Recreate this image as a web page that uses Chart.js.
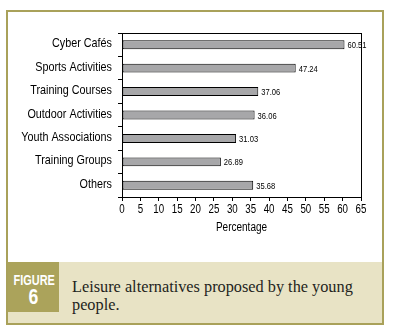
<!DOCTYPE html>
<html><head><meta charset="utf-8">
<script src="https://cdn.jsdelivr.net/npm/chart.js@4"></script>
<style>
html,body{margin:0;padding:0;background:#fff;width:393px;height:335px;overflow:hidden}
#frame{position:absolute;left:6px;top:10px;width:374px;height:311px;border:2px solid #A9A15A;background:#fff}
#chartbox{position:absolute;left:0;top:0;width:374px;height:250px}
#band{position:absolute;left:0;top:250px;width:374px;height:61px;background:#E8E3C5}
#fig{position:absolute;left:0;top:0;width:51px;height:50px;background:#ABA35B;color:#fff;text-align:center;font-family:"Liberation Sans",Arial,sans-serif;font-weight:bold}
#fig .a{position:absolute;left:0;width:51px;top:11px;font-size:14px;line-height:14px;transform:scaleX(0.78)}
#fig .b{position:absolute;left:0;width:51px;top:24px;font-size:22px;line-height:22px;transform:scaleX(0.8)}
#cap{position:absolute;left:64px;top:16px;width:305px;font-family:"Liberation Serif","DejaVu Serif",serif;font-size:16.3px;line-height:18px;color:#231f20}
</style></head>
<body>
<div id="frame">
  <div id="chartbox"><canvas id="c" width="374" height="250"></canvas></div>
  <div id="band"><div id="fig"><div class="a">FIGURE</div><div class="b">6</div></div>
  <div id="cap">Leisure alternatives proposed by the young people.</div></div>
</div>
<script>
const categories = ["Cyber Cafés","Sports Activities","Training Courses","Outdoor Activities","Youth Associations","Training Groups","Others"];
const values = [60.51, 47.24, 37.06, 36.06, 31.03, 26.89, 35.68];
const valueLabels = ["60.51","47.24","37.06","36.06","31.03","26.89","35.68"];
const axisTitle = "Percentage";
const xMin = 0, xMax = 65, xStep = 5;

const FONT = '"Liberation Sans",Arial,sans-serif';

// draw condensed text: scale horizontally around anchor
function condText(ctx, text, x, y, size, sx, align){
  ctx.save();
  ctx.font = size + 'px ' + FONT;
  ctx.textAlign = align;
  ctx.textBaseline = 'middle';
  ctx.translate(x, y);
  ctx.scale(sx, 1);
  ctx.fillText(text, 0, 0);
  ctx.restore();
}

const boxPlugin = {
  id:'box',
  afterDraw(chart){
    const a = chart.chartArea, ctx = chart.ctx;
    ctx.save();
    ctx.strokeStyle = '#000'; ctx.lineWidth = 1;
    ctx.strokeRect(Math.round(a.left)+0.5, Math.round(a.top)+0.5, Math.round(a.right-a.left), Math.round(a.bottom-a.top));
    ctx.fillStyle = '#000';
    // category labels
    const ys = chart.scales.y;
    categories.forEach((c,i)=>{
      condText(ctx, c, a.left - 10, ys.getPixelForTick(i) - 1, 13, 0.83, 'right');
    });
    // x tick labels
    const xs = chart.scales.x;
    xs.ticks.forEach(t=>{
      condText(ctx, String(t.value), xs.getPixelForValue(t.value), a.bottom + 13, 12.5, 0.78, 'center');
    });
    // axis title
    condText(ctx, axisTitle, (a.left + a.right)/2, a.bottom + 31, 12.5, 0.8, 'center');
    ctx.restore();
  }
};
const labelPlugin = {
  id:'vlabels',
  afterDatasetsDraw(chart){
    const ctx = chart.ctx;
    const meta = chart.getDatasetMeta(0);
    ctx.save();
    ctx.fillStyle = '#000';
    meta.data.forEach((bar,i)=>{
      condText(ctx, valueLabels[i], bar.x + 3, bar.y + 1, 9.5, 0.8, 'left');
    });
    ctx.restore();
  }
};

new Chart(document.getElementById('c'), {
  type:'bar',
  data:{labels:categories, datasets:[{data:values, backgroundColor:'#A7A7A9', borderColor:'#000', borderWidth:1, borderSkipped:false, categoryPercentage:0.38, barPercentage:1}]},
  options:{
    indexAxis:'y', responsive:false, animation:false, devicePixelRatio:1,
    layout:{padding:{left:0,right:21,top:21,bottom:22}},
    plugins:{legend:{display:false}, tooltip:{enabled:false}},
    scales:{
      y:{
        grid:{display:true, drawOnChartArea:false, drawTicks:true, tickLength:4, color:'#000', offset:true},
        border:{display:true, color:'#000'},
        ticks:{display:false},
        afterFit(s){ s.width = 114; }
      },
      x:{
        min:xMin, max:xMax,
        grid:{display:true, drawOnChartArea:false, drawTicks:true, tickLength:4, color:'#000'},
        border:{display:true, color:'#000'},
        ticks:{display:false, stepSize:xStep, autoSkip:false},
        title:{display:false},
        afterFit(s){ s.height = 43; }
      }
    }
  },
  plugins:[boxPlugin, labelPlugin]
});
</script>
</body></html>
